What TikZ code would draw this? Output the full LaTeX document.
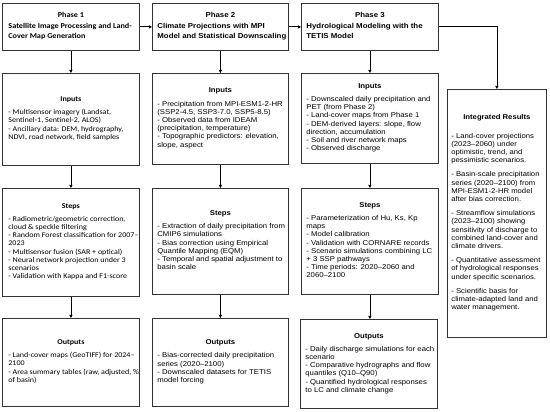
\documentclass[tikz,border=0pt]{standalone}
\usepackage{fontspec}
\setmainfont{Liberation Sans}[FakeStretch=1.1]
\newfontfamily\calfont{Carlito}[FakeStretch=1.1]
\usetikzlibrary{arrows.meta}
\newcommand{\blk}[4]{\textbf{#2}\\[#4]\makebox[#1][l]{\begin{tabular}{@{}l@{}}#3\end{tabular}}}
\begin{document}
\begin{tikzpicture}[x=1pt,y=-1pt,
  box/.style={draw=black!80, line width=0.8pt, inner sep=0pt, align=center, anchor=north west,
    font={\fontsize{7.05}{8.2}\selectfont}},
  irbox/.style={box, font={\fontsize{7}{8.2}\selectfont}},
  calbox/.style={box, font={\calfont\fontsize{7.3}{8.2}\selectfont}},
  hdr/.style={font={\fontsize{7.15}{9.8}\selectfont\bfseries}},
  calhdr/.style={font={\calfont\fontsize{7.45}{9.8}\selectfont\bfseries}},
  arr/.style={draw=black, line width=0.8pt, -{Triangle[length=3.2pt,width=3.2pt]}}]
\useasboundingbox (0,0) rectangle (550,412);
% Phase headers
\node[calbox, calhdr, minimum width=137pt, minimum height=47pt] (p1) at (2,3)
  {\blk{125pt}{Phase 1}{Satellite Image Processing and Land-\\Cover Map Generation}{3pt}};
\node[box, hdr, minimum width=136pt, minimum height=47pt] (p2) at (152,3)
  {\blk{126pt}{Phase 2}{Climate Projections with MPI\\Model and Statistical Downscaling}{3pt}};
\node[box, hdr, minimum width=137pt, minimum height=47pt] (p3) at (301,3)
  {\blk{127pt}{Phase 3}{Hydrological Modeling with the\\TETIS Model}{3pt}};
% Phase 1 column
\node[calbox, minimum width=137pt, minimum height=92pt] (p1in) at (2,73)
  {\blk{125pt}{Inputs}{- Multisensor imagery (Landsat,\\Sentinel-1, Sentinel-2, ALOS)\\- Ancillary data: DEM, hydrography,\\NDVI, road network, field samples}{5pt}};
\node[calbox, minimum width=137pt, minimum height=108pt] (p1st) at (2,188)
  {\blk{125pt}{Steps}{- Radiometric/geometric correction,\\cloud \& speckle filtering\\- Random Forest classification for 2007–\\2023\\- Multisensor fusion (SAR + optical)\\- Neural network projection under 3\\scenarios\\- Validation with Kappa and F1-score}{5pt}};
\node[calbox, minimum width=137pt, minimum height=88pt] (p1out) at (2,318)
  {\blk{125pt}{Outputs}{- Land-cover maps (GeoTIFF) for 2024–\\2100\\- Area summary tables (raw, adjusted, \%\\of basin)}{5pt}};
% Phase 2 column
\node[box, minimum width=136pt, minimum height=91pt] (p2in) at (152,73)
  {\blk{126pt}{Inputs}{- Precipitation from MPI-ESM1-2-HR\\(SSP2-4.5, SSP3-7.0, SSP5-8.5)\\- Observed data from IDEAM\\(precipitation, temperature)\\- Topographic predictors: elevation,\\slope, aspect}{5pt}};
\node[box, minimum width=136pt, minimum height=106pt] (p2st) at (152,188)
  {\blk{126pt}{Steps}{- Extraction of daily precipitation from\\CMIP6 simulations\\- Bias correction using Empirical\\Quantile Mapping (EQM)\\- Temporal and spatial adjustment to\\basin scale}{5pt}};
\node[box, minimum width=136pt, minimum height=88pt] (p2out) at (152,318)
  {\blk{126pt}{Outputs}{- Bias-corrected daily precipitation\\series (2020–2100)\\- Downscaled datasets for TETIS\\model forcing}{5pt}};
% Phase 3 column
\node[box, minimum width=137pt, minimum height=90pt] (p3in) at (301,73)
  {\blk{127pt}{Inputs}{- Downscaled daily precipitation and\\PET (from Phase 2)\\- Land-cover maps from Phase 1\\- DEM-derived layers: slope, flow\\direction, accumulation\\- Soil and river network maps\\- Observed discharge}{5pt}};
\node[box, minimum width=137pt, minimum height=106pt] (p3st) at (301,188)
  {\blk{127pt}{Steps}{- Parameterization of Hu, Ks, Kp\\maps\\- Model calibration\\- Validation with CORNARE records\\- Scenario simulations combining LC\\+ 3 SSP pathways\\- Time periods: 2020–2060 and\\2060–2100}{5pt}};
\node[box, minimum width=137pt, minimum height=89pt] (p3out) at (300,319)
  {\blk{127pt}{Outputs}{- Daily discharge simulations for each\\scenario\\- Comparative hydrographs and flow\\quantiles (Q10–Q90)\\- Quantified hydrological responses\\to LC and climate change}{5pt}};
% Integrated results
\node[irbox, minimum width=99pt, minimum height=248pt] (ir) at (447,89)
  {\blk{91pt}{Integrated Results}{- Land-cover projections\\(2023–2060) under\\optimistic, trend, and\\pessimistic scenarios.\\[6pt]- Basin-scale precipitation\\series (2020–2100) from\\MPI-ESM1-2-HR model\\after bias correction.\\[6pt]- Streamflow simulations\\(2023–2100) showing\\sensitivity of discharge to\\combined land-cover and\\climate drivers.\\[6pt]- Quantitative assessment\\of hydrological responses\\under specific scenarios.\\[6pt]- Scientific basis for\\climate-adapted land and\\water management.}{10pt}};
% Connectors
\draw[arr] (p1) -- (p2);
\draw[arr] (p2) -- (p3);
\draw[arr] (p3.east) -| (ir.north);
\draw[arr] (p1) -- (p1in);
\draw[arr] (p1in) -- (p1st);
\draw[arr] (p1st) -- (p1out);
\draw[arr] (p2) -- (p2in);
\draw[arr] (p2in) -- (p2st);
\draw[arr] (p2st) -- (p2out);
\draw[arr] (p3) -- (p3in);
\draw[arr] (p3in) -- (p3st);
\draw[arr] (p3st.south) -- (p3out.north -| p3st.south);
\end{tikzpicture}
\end{document}
